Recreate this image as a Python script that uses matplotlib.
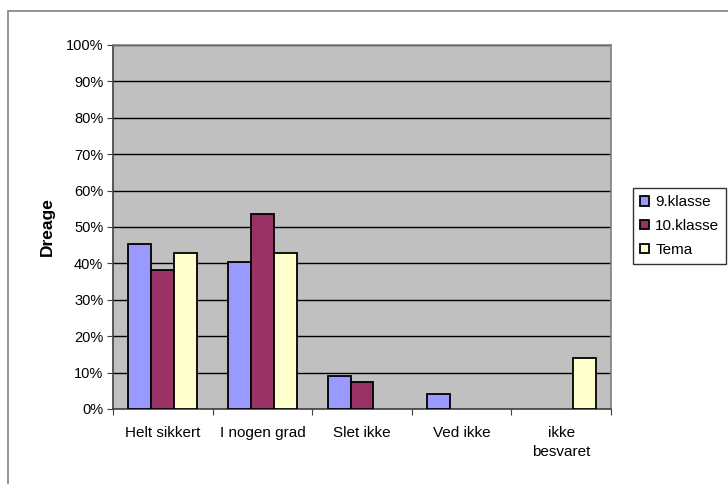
import matplotlib.pyplot as plt
import numpy as np
from matplotlib.patches import Rectangle

plt.rcParams['font.family'] = ['Liberation Sans', 'DejaVu Sans']

categories = ['Helt sikkert', 'I nogen grad', 'Slet ikke', 'Ved ikke', 'ikke\nbesvaret']
series_names = ['9.klasse', '10.klasse', 'Tema']
klasse9 = [45.3, 40.3, 9.2, 4.1, 0]
klasse10 = [38.2, 53.6, 7.5, 0, 0]
tema = [42.8, 42.8, 0, 0, 13.9]
colors = ['#9999FF', '#993366', '#FFFFCC']

fig = plt.figure(figsize=(7.28, 4.84), dpi=100)
fig.patches.append(Rectangle((8 / 728, -0.1), 1.2, 1 - 11 / 484 + 0.1, transform=fig.transFigure,
                             fill=False, edgecolor='#808080', linewidth=1.2))
ax = fig.add_axes([113 / 728, 1 - 409 / 484, (611 - 113) / 728, (409 - 45) / 484])
ax.set_facecolor('#C0C0C0')

x = np.arange(len(categories))
w = 0.23
for i, (vals, name) in enumerate(zip([klasse9, klasse10, tema], series_names)):
    v = np.array(vals, dtype=float)
    mask = v > 0
    ax.bar(x[mask] + (i - 1) * w, v[mask], width=w, color=colors[i], edgecolor='black',
           linewidth=1.3, label=name, zorder=3)

ax.set_xlim(-0.5, len(categories) - 0.5)
ax.set_ylim(0, 100)
ax.set_yticks(np.arange(0, 101, 10))
ax.set_yticklabels([f'{v}%' for v in range(0, 101, 10)], fontsize=10.5)
ax.yaxis.grid(True, color='black', linewidth=1)
ax.set_axisbelow(True)

ax.set_xticks(np.arange(-0.5, len(categories), 1))
ax.set_xticklabels([])
ax.set_xticks(x, minor=True)
ax.set_xticklabels(categories, minor=True, fontsize=11, linespacing=1.5)
ax.tick_params(axis='x', which='minor', length=0, pad=12)
ax.tick_params(axis='x', which='major', length=4, color='#404040')
ax.tick_params(axis='y', length=4, color='#404040', pad=3)

for s in ['top', 'right']:
    ax.spines[s].set_color('#808080')
for s in ['left', 'bottom']:
    ax.spines[s].set_color('#404040')
for s in ax.spines.values():
    s.set_linewidth(1.2)

ax.set_ylabel('Dreage', fontsize=12.5, fontweight='bold', labelpad=8)

leg = ax.legend(loc='center left', bbox_to_anchor=(633 / 728, 1 - 226 / 484),
                bbox_transform=fig.transFigure, fontsize=11, frameon=True, fancybox=False,
                edgecolor='black', handlelength=0.6, handleheight=0.6, handletextpad=0.4,
                borderpad=0.45, labelspacing=0.65, borderaxespad=0)
leg.get_frame().set_linewidth(1)

fig.savefig('out.png', dpi=100)
